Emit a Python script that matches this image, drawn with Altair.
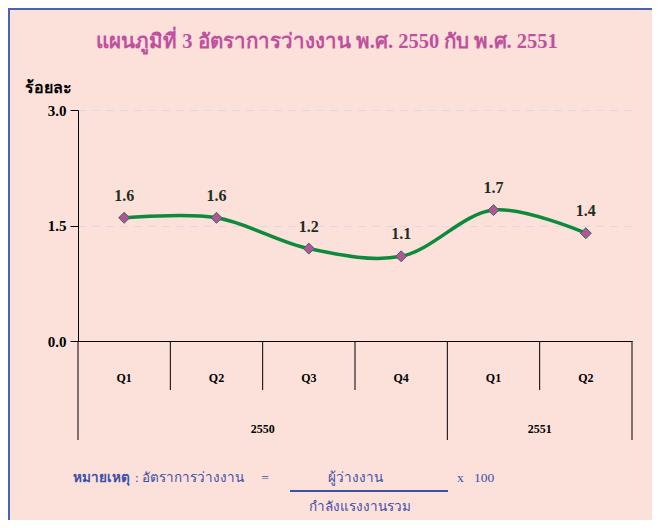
import altair as alt
import pandas as pd

# ---- data ----
quarters = ["Q1", "Q2", "Q3", "Q4", "Q1", "Q2"]
years = ["2550", "2550", "2550", "2550", "2551", "2551"]
rates = [1.6, 1.6, 1.2, 1.1, 1.7, 1.4]
rate_labels = ["1.6", "1.6", "1.2", "1.1", "1.7", "1.4"]
year_names = ["2550", "2551"]
year_centers = [2.0, 5.0]
quarter_bounds = [1, 2, 3, 5]
year_bounds = [0, 4, 6]
y_ticks = [0.0, 1.5, 3.0]

W, H = 554, 231
BG = "#FCE0DA"
SERIF = "Liberation Serif, Times New Roman, serif"
BLUE = "#3C50A8"

df = pd.DataFrame({
    "pos": [i + 0.5 for i in range(len(rates))],
    "rate": rates,
    "lab": rate_labels,
    "q": quarters,
    "year": years,
})

xs = alt.Scale(domain=[0, 6], nice=False, zero=False)
ys = alt.Scale(domain=[0, 3], nice=False)

base = alt.Chart(df)

line = base.mark_line(interpolate="catmull-rom", color="#0E8A3E", strokeWidth=3.5).encode(
    x=alt.X("pos:Q", scale=xs, axis=alt.Axis(labels=False, ticks=False, grid=False, title=None,
                                             domainColor="#000000", domainWidth=1)),
    y=alt.Y("rate:Q", scale=ys,
            axis=alt.Axis(values=y_ticks, format=".1f", title=None, grid=True,
                          gridDash=[7, 7], gridColor="#DCD6E8", gridWidth=1,
                          domainColor="#000000", tickColor="#000000", tickSize=8,
                          labelFont=SERIF, labelFontSize=15, labelFontWeight="bold",
                          labelColor="#000000", labelPadding=4)),
)

points = base.mark_point(shape="diamond", filled=True, size=120, fill="#B4529E",
                         stroke="#1E7A3E", strokeWidth=1, opacity=1).encode(
    x=alt.X("pos:Q", scale=xs), y=alt.Y("rate:Q", scale=ys))

labels = base.mark_text(dy=-22, font=SERIF, fontSize=16, fontWeight="bold", color="#1E2E1E").encode(
    x=alt.X("pos:Q", scale=xs), y=alt.Y("rate:Q", scale=ys), text="lab:N")

qtext = base.mark_text(font=SERIF, fontSize=12, fontWeight="bold", color="#000000").encode(
    x=alt.X("pos:Q", scale=xs), y=alt.value(H + 37), text="q:N")

ydf = pd.DataFrame({"c": year_centers, "y": year_names})
ytext = alt.Chart(ydf).mark_text(font=SERIF, fontSize=12, fontWeight="bold", color="#000000").encode(
    x=alt.X("c:Q", scale=xs), y=alt.value(H + 88), text="y:N")

qrules = alt.Chart(pd.DataFrame({"b": quarter_bounds})).mark_rule(color="#000000", strokeWidth=1).encode(
    x=alt.X("b:Q", scale=xs), y=alt.value(H), y2=alt.value(H + 49))
yrules = alt.Chart(pd.DataFrame({"b": year_bounds})).mark_rule(color="#000000", strokeWidth=1).encode(
    x=alt.X("b:Q", scale=xs), y=alt.value(H), y2=alt.value(H + 99))


def txt(s, x, y, size, color, weight="normal", align="left", font=SERIF):
    return alt.Chart(pd.DataFrame({"t": [s]})).mark_text(
        font=font, fontSize=size, fontWeight=weight, color=color, align=align, baseline="middle"
    ).encode(x=alt.value(x), y=alt.value(y), text="t:N")


title = txt("แผนภูมิที่ 3 อัตราการว่างงาน พ.ศ. 2550 กับ พ.ศ. 2551", 249, -68, 20.5, "#C0509E", "bold", "center")
ytitle = txt("ร้อยละ", -53, -22, 16, "#000000", "bold", "left")

note1 = txt("หมายเหตุ", -5, 368, 13.5, BLUE, "bold", "left")
note2 = txt(": อัตราการว่างงาน", 57, 368, 13.5, BLUE, "normal", "left")
note3 = txt("=", 187, 368, 13.5, BLUE, "normal", "center")
note4 = txt("ผู้ว่างงาน", 277, 368, 13.5, BLUE, "normal", "center")
note5 = txt("กำลังแรงงานรวม", 282, 397, 13.5, BLUE, "normal", "center")
note6 = txt("x\u00a0\u00a0\u00a0100", 379, 368, 13.5, BLUE, "normal", "left")
frac = alt.Chart(pd.DataFrame({"t": [0]})).mark_rule(color=BLUE, strokeWidth=2).encode(
    x=alt.value(212), x2=alt.value(370), y=alt.value(381))

border_top = alt.Chart(pd.DataFrame({"t": [0]})).mark_rule(color="#4A62B4", strokeWidth=2).encode(
    x=alt.value(-70), x2=alt.value(W + 20), y=alt.value(-101))
border_left = alt.Chart(pd.DataFrame({"t": [0]})).mark_rule(color="#4A62B4", strokeWidth=2).encode(
    x=alt.value(-69), y=alt.value(-102), y2=alt.value(H + 179))

chart = alt.layer(
    line, qrules, yrules, points, labels, qtext, ytext,
    title, ytitle, note1, note2, note3, note4, note5, note6, frac, border_top, border_left,
).properties(
    width=W, height=H,
    padding={"left": 70, "top": 102, "right": 20, "bottom": 179},
    autosize=alt.AutoSizeParams(type="none"),
    background=BG,
).configure_view(stroke=None)

chart.save("out.html", embed_options={"renderer": "svg", "actions": False})
